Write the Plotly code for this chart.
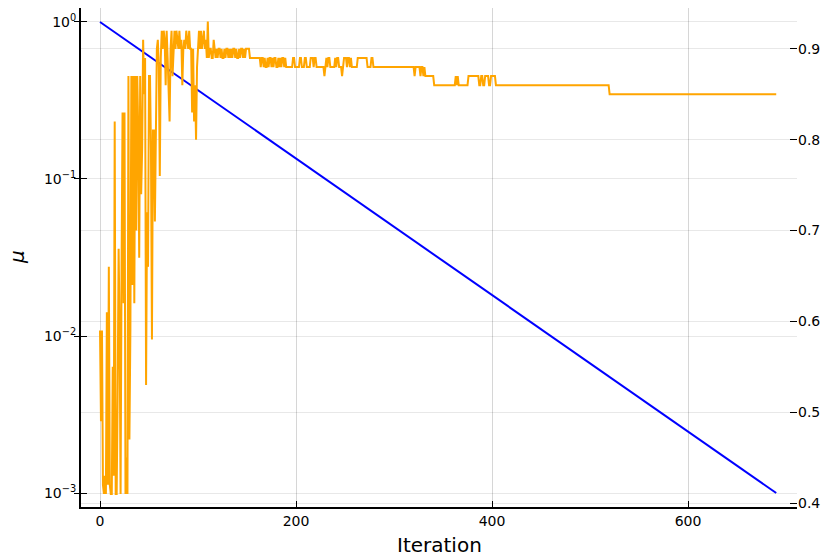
import plotly.graph_objects as go

# ---- data ----
mu_iter = [0, 50, 100, 150, 200, 250, 300, 350, 400, 450, 500, 550, 600, 650, 690]
mu_vals = [1.0, 0.606, 0.367, 0.2228, 0.135, 0.0818, 0.0496, 0.0301, 0.01824,
           0.01105, 0.0067, 0.00406, 0.00246, 0.00149, 0.001]

# accuracy, iterations 0..110 (one value per iteration)
acc_early = [
    0.59, 0.49, 0.59, 0.42, 0.41, 0.43, 0.41, 0.61, 0.42, 0.66,
    0.42, 0.41, 0.41, 0.55, 0.43, 0.82, 0.41, 0.41, 0.52, 0.68,
    0.59, 0.41, 0.66, 0.83, 0.62, 0.83, 0.41, 0.45, 0.41, 0.87,
    0.47, 0.59, 0.87, 0.64, 0.87, 0.62, 0.87, 0.70, 0.87, 0.81,
    0.67, 0.87, 0.74, 0.79, 0.91, 0.85, 0.89, 0.53, 0.72, 0.66,
    0.87, 0.87, 0.79, 0.58, 0.81, 0.81, 0.71, 0.84, 0.90, 0.91,
    0.88, 0.76, 0.89, 0.92, 0.90, 0.92, 0.91, 0.86, 0.92, 0.89,
    0.86, 0.82, 0.90, 0.92, 0.87, 0.91, 0.92, 0.90, 0.92, 0.91,
    0.90, 0.92, 0.90, 0.91, 0.86, 0.90, 0.91, 0.90, 0.92, 0.91,
    0.90, 0.92, 0.90, 0.90, 0.83, 0.90, 0.82, 0.86, 0.80, 0.88,
    0.90, 0.92, 0.90, 0.92, 0.90, 0.91, 0.92, 0.90, 0.91, 0.89,
    0.93,
]
# accuracy from iteration 111 on, as (value, number of iterations) runs
acc_runs = [
    (0.89, 1), (0.90, 2), (0.89, 2), (0.91, 1), (0.90, 1), (0.89, 1), (0.90, 1),
    (0.89, 1), (0.90, 2), (0.89, 1), (0.90, 1), (0.89, 2), (0.90, 1), (0.89, 1),
    (0.90, 2), (0.89, 1), (0.90, 1), (0.89, 1), (0.90, 1), (0.89, 1), (0.90, 2),
    (0.89, 1), (0.90, 1), (0.89, 2), (0.90, 1), (0.89, 1), (0.90, 2), (0.89, 1),
    (0.90, 1), (0.89, 1), (0.90, 4),
    (0.89, 11),
    (0.88, 1), (0.89, 2), (0.88, 1), (0.89, 1), (0.88, 2), (0.89, 1), (0.88, 1),
    (0.89, 2), (0.88, 1), (0.89, 1), (0.88, 1), (0.89, 2), (0.88, 2), (0.89, 1),
    (0.88, 1), (0.89, 1), (0.88, 1), (0.89, 2), (0.88, 1), (0.89, 1),
    (0.88, 7), (0.89, 2), (0.88, 5), (0.89, 2), (0.88, 3), (0.89, 2), (0.88, 4),
    (0.89, 3), (0.88, 1), (0.89, 2), (0.88, 8), (0.87, 1), (0.88, 1), (0.89, 1),
    (0.88, 1), (0.89, 2), (0.88, 5), (0.89, 1), (0.88, 1), (0.89, 2), (0.88, 3),
    (0.87, 1), (0.88, 1), (0.89, 3), (0.88, 1), (0.89, 2), (0.88, 1), (0.89, 1),
    (0.88, 6), (0.89, 10), (0.88, 4), (0.89, 2), (0.88, 42),
    (0.87, 1), (0.88, 5), (0.87, 1), (0.88, 2), (0.87, 1), (0.88, 1), (0.87, 9),
    (0.86, 22), (0.87, 1), (0.86, 1), (0.87, 1), (0.86, 10), (0.87, 11),
    (0.86, 2), (0.87, 2), (0.86, 2), (0.87, 4), (0.86, 2), (0.87, 5),
    (0.86, 116), (0.85, 171),
]

x_ticks = [0, 200, 400, 600]
mu_ticks = [1, 0.1, 0.01, 0.001]
mu_ticktext = ["10<sup>0</sup>", "10<sup>−1</sup>", "10<sup>−2</sup>", "10<sup>−3</sup>"]
acc_ticks = [0.4, 0.5, 0.6, 0.7, 0.8, 0.9]
acc_ticktext = ["0.4", "0.5", "0.6", "0.7", "0.8", "0.9"]

# ---- build the series ----
acc = list(acc_early)
for v, n in acc_runs:
    acc.extend([v] * n)
acc_iter = list(range(len(acc)))

FONT = "DejaVu Sans"
GRID_H = "rgba(0,0,0,0.09)"
GRID_V = "rgba(0,0,0,0.16)"

fig = go.Figure()
fig.add_trace(go.Scatter(x=mu_iter, y=mu_vals, mode="lines",
                         line=dict(color="#0000ff", width=2), yaxis="y",
                         showlegend=False, hoverinfo="skip"))
fig.add_trace(go.Scatter(x=acc_iter, y=acc, mode="lines",
                         line=dict(color="#ffa500", width=2), yaxis="y2",
                         showlegend=False, hoverinfo="skip"))
# invisible trace to carry the inner half of the left ticks
fig.add_trace(go.Scatter(x=mu_iter, y=mu_vals, mode="lines",
                         line=dict(color="rgba(0,0,0,0)", width=0), yaxis="y3",
                         showlegend=False, hoverinfo="skip"))

yr = [-3.089, 0.089]
fig.update_layout(
    width=831, height=556,
    margin=dict(l=81, r=34, t=8, b=49, autoexpand=False),
    paper_bgcolor="white", plot_bgcolor="white",
    font=dict(family=FONT, size=14, color="black"),
    xaxis=dict(
        range=[-19.4, 711.2], tickvals=x_ticks, ticktext=[str(t) for t in x_ticks],
        showgrid=True, gridcolor=GRID_V, gridwidth=1,
        showline=True, linecolor="black", linewidth=2,
        ticks="inside", ticklen=6, tickcolor="black", tickwidth=1,
        zeroline=False, automargin=False,
        tickfont=dict(size=14, family=FONT),
    ),
    yaxis=dict(
        type="log", range=yr, tickvals=mu_ticks, ticktext=mu_ticktext,
        showgrid=True, gridcolor=GRID_H, gridwidth=1,
        showline=True, linecolor="black", linewidth=2,
        ticks="outside", ticklen=5, tickcolor="black", tickwidth=1,
        zeroline=False, automargin=False,
        tickfont=dict(size=14, family=FONT),
        ticklabelstandoff=-5,
    ),
    yaxis3=dict(
        type="log", range=yr, tickvals=mu_ticks, overlaying="y", side="left",
        showgrid=False, showline=False, showticklabels=False, automargin=False,
        ticks="inside", ticklen=6, tickcolor="black", tickwidth=1, zeroline=False,
    ),
    yaxis2=dict(
        range=[0.3956, 0.945], tickvals=acc_ticks, ticktext=acc_ticktext,
        overlaying="y", side="right",
        showgrid=True, gridcolor=GRID_H, gridwidth=1,
        showline=False, zeroline=False, automargin=False,
        ticks="inside", ticklen=7, tickcolor="black", tickwidth=1,
        tickfont=dict(size=14, family=FONT),
        ticklabelstandoff=0,
    ),
    annotations=[
        dict(text="Iteration", xref="paper", yref="paper", x=0.5, y=-0.076,
             xanchor="center", yanchor="middle", showarrow=False,
             font=dict(size=20, family=FONT)),
        dict(text="<i>μ</i>", xref="paper", yref="paper", x=-0.0894, y=0.501,
             xanchor="center", yanchor="middle", showarrow=False, textangle=-90,
             font=dict(size=20, family=FONT)),
    ],
)

fig.write_html("out.html", config={"displayModeBar": False},
               post_script="document.body.style.margin='0';document.body.style.padding='0';")
